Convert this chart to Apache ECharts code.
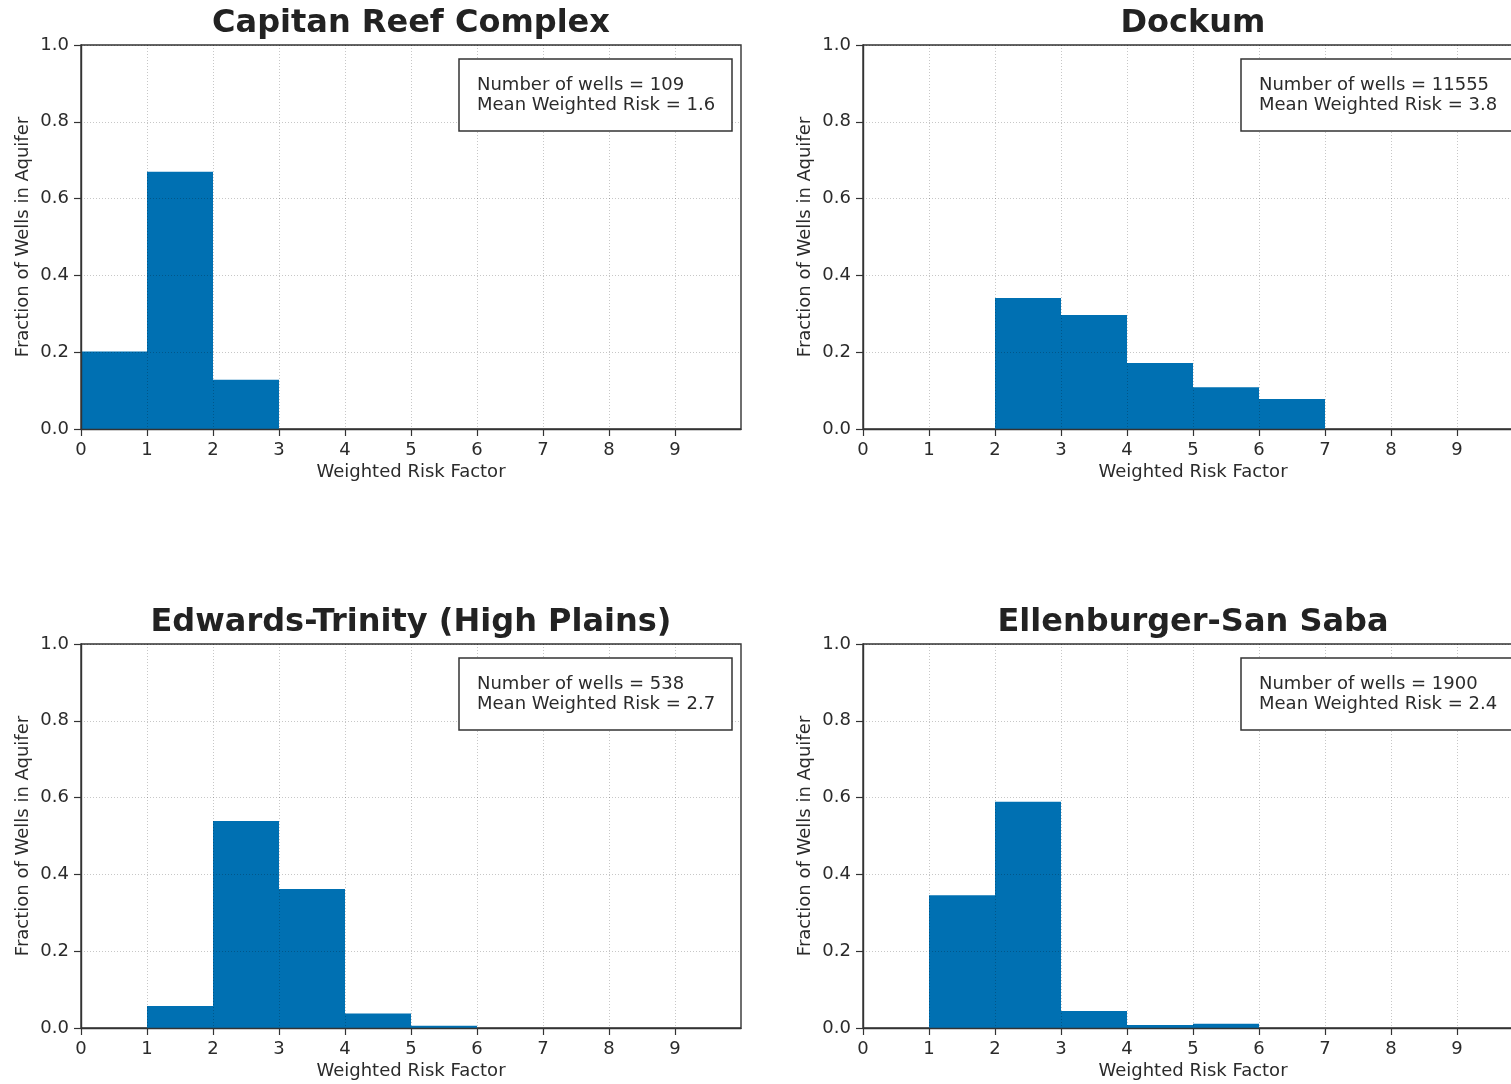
<!DOCTYPE html>
<html>
<head>
<meta charset="utf-8">
<script src="https://cdn.jsdelivr.net/npm/echarts@6/dist/echarts.min.js"></script>
<style>
  html, body { margin: 0; padding: 0; background: #ffffff; }
  #chart { width: 1511px; height: 1084px; }
</style>
</head>
<body>
<div id="chart"></div>
<script>
// ---- data ----
const panelTitles = ['Capitan Reef Complex', 'Dockum', 'Edwards-Trinity (High Plains)', 'Ellenburger-San Saba'];
const binStarts = [0, 1, 2, 3, 4, 5, 6, 7, 8, 9];
const capitanReef = [0.202, 0.670, 0.128, 0, 0, 0, 0, 0, 0, 0];
const dockum = [0, 0, 0.341, 0.297, 0.172, 0.109, 0.078, 0, 0, 0];
const edwardsTrinity = [0, 0.057, 0.539, 0.362, 0.038, 0.006, 0, 0, 0, 0];
const ellenburger = [0, 0.346, 0.589, 0.044, 0.008, 0.011, 0, 0, 0, 0];
const wellCounts = [109, 11555, 538, 1900];
const meanRisks = ['1.6', '3.8', '2.7', '2.4'];
const xTickValues = [0, 1, 2, 3, 4, 5, 6, 7, 8, 9];

const seriesValues = [capitanReef, dockum, edwardsTrinity, ellenburger];

// ---- layout ----
const gridLefts = [81, 863, 81, 863];
const gridTops = [45, 45, 644, 644];
const gridW = 660, gridH = 384;
const barColor = '#0070B2';
const txtColor = '#2b2b2b';
const font = 'DejaVu Sans';

const chart = echarts.init(document.getElementById('chart'), null, { renderer: 'canvas' });

const grids = [], xAxes = [], yAxes = [], series = [], graphics = [];

for (let i = 0; i < 4; i++) {
  grids.push({
    left: gridLefts[i], top: gridTops[i], width: gridW, height: gridH,
    show: true, borderColor: '#333', borderWidth: 1.4, backgroundColor: 'transparent',
    containLabel: false, outerBoundsMode: 'none'
  });
  xAxes.push({
    type: 'value', gridIndex: i, min: 0, max: 10, interval: 1, z: 5,
    name: 'Weighted Risk Factor', nameLocation: 'middle', nameGap: 34,
    nameTextStyle: { fontFamily: font, fontSize: 18, color: txtColor },
    axisLine: { show: true, onZero: false, lineStyle: { color: '#333', width: 1.4 } },
    axisTick: { show: true, length: 7, inside: false, customValues: xTickValues, lineStyle: { color: '#333', width: 1.2 } },
    axisLabel: { show: true, margin: 12, customValues: xTickValues, fontFamily: font, fontSize: 18, color: txtColor,
      formatter: v => String(v) },
    splitLine: { show: true, lineStyle: { color: 'rgba(0,0,0,0.28)', width: 0.8, type: [1, 2] } }
  });
  yAxes.push({
    type: 'value', gridIndex: i, min: 0, max: 1, interval: 0.2, z: 5,
    name: 'Fraction of Wells in Aquifer', nameLocation: 'middle', nameGap: 49,
    nameTextStyle: { fontFamily: font, fontSize: 18, color: txtColor },
    axisLine: { show: true, onZero: false, lineStyle: { color: '#333', width: 1.4 } },
    axisTick: { show: true, length: 7, inside: false, lineStyle: { color: '#333', width: 1.2 } },
    axisLabel: { show: true, margin: 12, fontFamily: font, fontSize: 18, color: txtColor,
      formatter: v => v.toFixed(1) },
    splitLine: { show: true, lineStyle: { color: 'rgba(0,0,0,0.28)', width: 0.8, type: [1, 2] } }
  });
  const vals = seriesValues[i];
  series.push({
    type: 'custom', xAxisIndex: i, yAxisIndex: i, z: 1,
    data: binStarts.map((b, k) => [b, b + 1, vals[k]]).filter(d => d[2] > 0),
    encode: { x: [0, 1], y: 2 },
    renderItem: function (params, api) {
      const x0 = api.value(0), x1 = api.value(1), y = api.value(2);
      const p0 = api.coord([x0, y]);
      const p1 = api.coord([x1, 0]);
      return {
        type: 'rect',
        shape: { x: p0[0], y: p0[1], width: p1[0] - p0[0], height: p1[1] - p0[1] },
        style: { fill: barColor }
      };
    },
    silent: true
  });

  // panel title
  graphics.push({
    type: 'text', z: 100,
    x: gridLefts[i] + gridW / 2, y: gridTops[i] - 21,
    style: { text: panelTitles[i], font: 'bold 32px "DejaVu Sans"', fill: '#222', align: 'center', verticalAlign: 'middle' }
  });
  // stats box
  const bx = gridLefts[i] + gridW - 9 - 273, by = gridTops[i] + 14;
  graphics.push({
    type: 'rect', z: 100,
    shape: { x: bx, y: by, width: 273, height: 72 },
    style: { fill: '#ffffff', stroke: '#333', lineWidth: 1.5 }
  });
  graphics.push({
    type: 'text', z: 101, x: bx + 18, y: by + 26,
    style: { text: 'Number of wells = ' + wellCounts[i], font: '18px "DejaVu Sans"', fill: txtColor, align: 'left', verticalAlign: 'middle' }
  });
  graphics.push({
    type: 'text', z: 101, x: bx + 18, y: by + 46,
    style: { text: 'Mean Weighted Risk = ' + meanRisks[i], font: '18px "DejaVu Sans"', fill: txtColor, align: 'left', verticalAlign: 'middle' }
  });
}

chart.setOption({
  animation: false,
  backgroundColor: '#ffffff',
  grid: grids,
  xAxis: xAxes,
  yAxis: yAxes,
  series: series,
  graphic: { elements: graphics }
});
</script>
</body>
</html>
